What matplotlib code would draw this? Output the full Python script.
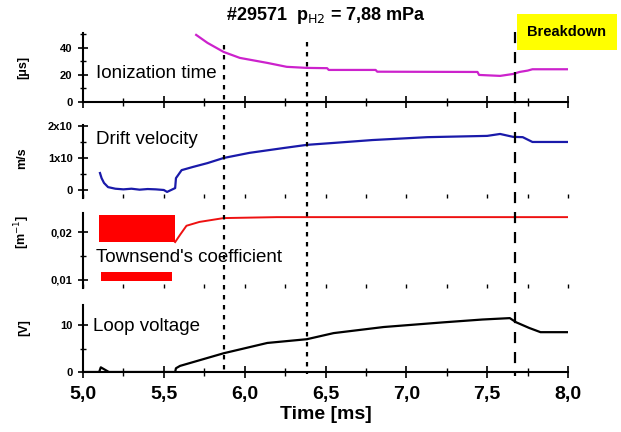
import matplotlib
matplotlib.use('Agg')
import matplotlib.pyplot as plt
from matplotlib.ticker import MultipleLocator, FixedLocator, FixedFormatter
from matplotlib.lines import Line2D
from matplotlib.transforms import blended_transform_factory

plt.rcParams['font.family'] = ['Liberation Sans', 'DejaVu Sans']

# ionization time [us]
t_ion = [5.70, 5.77, 5.87, 5.97, 6.14, 6.26, 6.385, 6.51, 6.52, 6.81, 6.82, 7.44, 7.45, 7.58, 7.66, 7.70, 7.75, 7.78, 8.0]
ion = [49.6, 43.7, 37.0, 32.6, 28.9, 26.0, 25.2, 25.0, 23.7, 23.7, 22.4, 22.2, 20.0, 19.3, 20.7, 22.2, 23.2, 24.2, 24.2]

# drift velocity [1e10 m/s]
t_drift = [5.105, 5.115, 5.13, 5.155, 5.20, 5.25, 5.30, 5.35, 5.40, 5.45, 5.50, 5.52, 5.57, 5.575, 5.61, 5.68,
           5.77, 5.87, 6.03, 6.24, 6.385, 6.55, 6.79, 7.13, 7.50, 7.58, 7.66, 7.72, 7.78, 8.0]
drift = [0.53, 0.37, 0.22, 0.09, 0.04, 0.02, 0.04, 0.01, 0.03, 0.02, 0.00, -0.06, 0.06, 0.37, 0.62, 0.72,
         0.84, 1.00, 1.16, 1.31, 1.41, 1.47, 1.56, 1.65, 1.69, 1.75, 1.66, 1.65, 1.50, 1.50]

# Townsend coefficient [1/m]
t_band = [5.10, 5.57]
band_hi_top = [0.0235, 0.0235]
band_hi_bot = [0.0179, 0.0179]
t_band2 = [5.11, 5.55]
band_lo_top = [0.0117, 0.0117]
band_lo_bot = [0.0097, 0.0097]
t_town = [5.57, 5.60, 5.64, 5.72, 5.87, 6.20, 8.0]
town = [0.0179, 0.0194, 0.0213, 0.0221, 0.0229, 0.0231, 0.0231]

# loop voltage [V]
t_loop = [5.0, 5.10, 5.11, 5.13, 5.16, 5.57, 5.575, 5.60, 5.87, 6.14, 6.385, 6.55, 6.86, 7.23, 7.47, 7.64,
          7.68, 7.76, 7.83, 8.0]
loop = [0.0, 0.0, 1.0, 0.6, 0.0, 0.0, 0.8, 1.3, 4.0, 6.2, 7.0, 8.3, 9.6, 10.6, 11.2, 11.5,
        10.6, 9.4, 8.5, 8.5]

t_marks = [5.87, 6.385]
t_breakdown = 7.67

W, H = 621, 432
fig = plt.figure(figsize=(W / 100, H / 100), dpi=100)


def make_ax(top_px, bot_px):
    left = 83 / W
    width = 485 / W
    return fig.add_axes([left, 1 - bot_px / H, width, (bot_px - top_px) / H])


ax1 = make_ax(33, 102)
ax2 = make_ax(125, 198)
ax3 = make_ax(213, 288)
ax4 = make_ax(305, 372)

ax1.plot(t_ion, ion, color='#cc22cc', lw=1.6)
ax1.set_ylim(0, 51)
ax1.yaxis.set_major_locator(FixedLocator([0, 20, 40]))
ax1.yaxis.set_minor_locator(FixedLocator([10, 30, 50]))

ax2.plot(t_drift, drift, color='#1a1aaa', lw=1.6)
ax2.set_ylim(-0.25, 2.03)
ax2.yaxis.set_major_locator(FixedLocator([0, 1, 2]))
ax2.yaxis.set_major_formatter(FixedFormatter(['0', '1x10', '2x10']))
ax2.yaxis.set_minor_locator(FixedLocator([0.5, 1.5]))

ax3.fill_between(t_band, band_hi_bot, band_hi_top, color='#ff0000', lw=0)
ax3.fill_between(t_band2, band_lo_bot, band_lo_top, color='#ff0000', lw=0)
ax3.plot(t_town, town, color='#ee1111', lw=1.4)
ax3.set_ylim(0.00833, 0.02396)
ax3.yaxis.set_major_locator(FixedLocator([0.01, 0.02]))
ax3.yaxis.set_major_formatter(FixedFormatter(['0,01', '0,02']))
ax3.yaxis.set_minor_locator(FixedLocator([0.015]))

ax4.plot(t_loop, loop, color='black', lw=1.6)
ax4.set_ylim(0, 14.3)
ax4.yaxis.set_major_locator(FixedLocator([0, 10]))
ax4.yaxis.set_minor_locator(FixedLocator([5]))

for ax in (ax1, ax2, ax3, ax4):
    ax.set_xlim(5.0, 8.0)
    ax.set_facecolor('none')
    ax.spines['top'].set_visible(False)
    ax.spines['right'].set_visible(False)
    ax.spines['left'].set_linewidth(1.5)
    ax.spines['bottom'].set_linewidth(1.5)
    ax.xaxis.set_major_locator(MultipleLocator(0.5))
    ax.xaxis.set_minor_locator(MultipleLocator(0.25))
    ax.tick_params(axis='y', which='major', direction='inout', length=7, width=1.2, labelsize=8, pad=4)
    ax.tick_params(axis='y', which='minor', direction='inout', length=4, width=1.0)
    ax.tick_params(axis='x', which='major', direction='inout', length=8, width=1.2)
    ax.tick_params(axis='x', which='minor', direction='inout', length=6, width=1.0)
    for lab in ax.get_yticklabels():
        lab.set_fontweight('bold')

for ax in (ax2, ax3):
    ax.spines['bottom'].set_visible(False)
    ax.tick_params(axis='x', which='both', direction='in', length=3, width=1.0)

for ax in (ax1, ax2, ax3):
    ax.tick_params(axis='x', labelbottom=False)

ax4.tick_params(axis='x', labelsize=14, pad=6)
ax4.xaxis.set_major_formatter(matplotlib.ticker.FuncFormatter(lambda v, p: f'{v:.1f}'.replace('.', ',')))
for lab in ax4.get_xticklabels():
    lab.set_fontweight('bold')
ax4.set_xlabel('Time [ms]', fontsize=14, fontweight='bold', labelpad=2)

# panel texts
ax1.text(5.08, 21, 'Ionization time', fontsize=13.5, va='center')
ax2.text(5.08, 1.58, 'Drift velocity', fontsize=13.5, va='center')
ax3.text(5.08, 0.0146, "Townsend's coefficient", fontsize=13.5, va='center')
ax4.text(5.06, 9.8, 'Loop voltage', fontsize=13.5, va='center')

# y labels
fig.text(23 / W, 1 - 67 / H, '[μs]', rotation=90, fontsize=9, fontweight='bold', ha='center', va='center')
fig.text(22 / W, 1 - 158 / H, 'm/s', rotation=90, fontsize=9, fontweight='bold', ha='center', va='center')
fig.text(22 / W, 1 - 232 / H, '[m$^{-1}$]', rotation=90, fontsize=9, fontweight='bold', ha='center', va='center')
fig.text(24 / W, 1 - 328 / H, '[V]', rotation=90, fontsize=9, fontweight='bold', ha='center', va='center')

# vertical marker lines spanning all panels
trans = blended_transform_factory(ax4.transData, fig.transFigure)
for tm, ytop in zip(t_marks, [1 - 45 / H, 1 - 42 / H]):
    fig.add_artist(Line2D([tm, tm], [ytop, 1 - 374 / H], transform=trans, color='black',
                          lw=1.6, linestyle=(0, (2, 2.5))))
fig.add_artist(Line2D([t_breakdown, t_breakdown], [1 - 32 / H, 1 - 376 / H], transform=trans,
                      color='black', lw=1.6, linestyle=(0, (5, 4))))

# title and breakdown label
fig.text(326 / W, 1 - 15 / H, '#29571  p$_{\\mathrm{H2}}$ = 7,88 mPa', fontsize=13, fontweight='bold',
         ha='center', va='center')
fig.text(567 / W, 1 - 32 / H, 'Breakdown', fontsize=10.5, fontweight='bold', ha='center', va='center',
         bbox=dict(boxstyle='square,pad=0.75', facecolor='#ffff00', edgecolor='none'))

fig.savefig('out.png', dpi=100)
